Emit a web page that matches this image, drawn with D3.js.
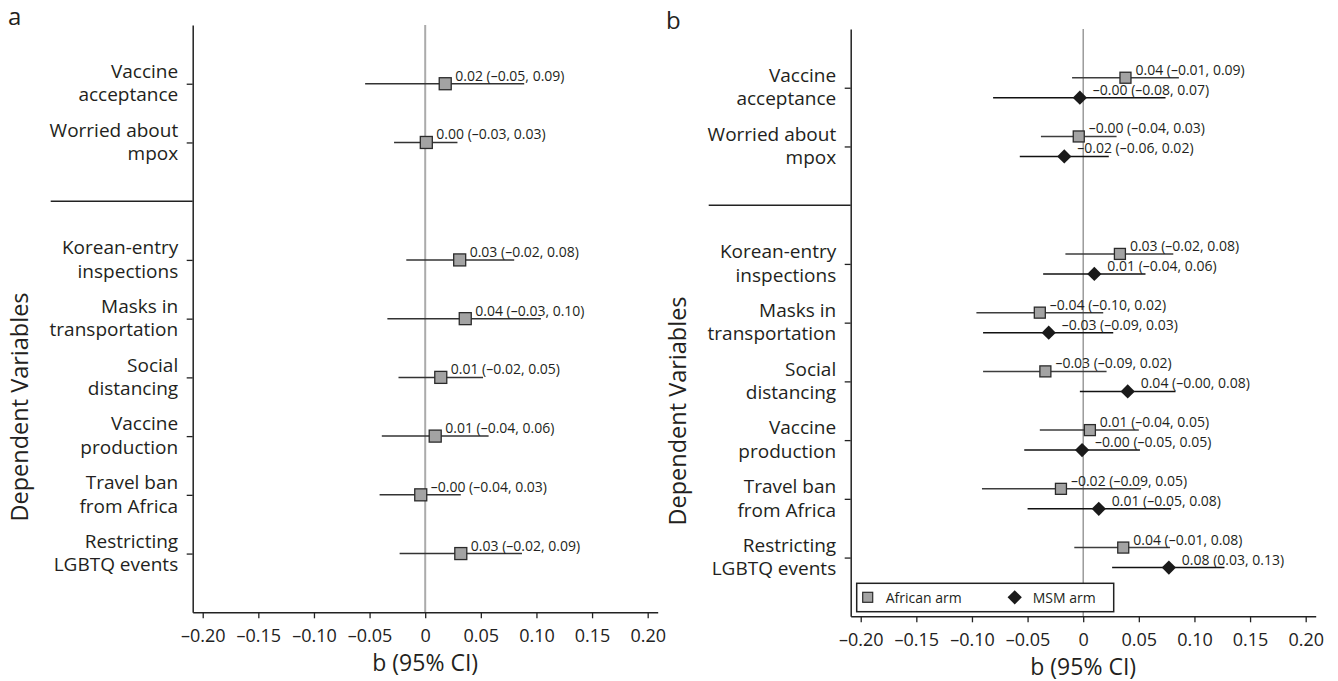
<!DOCTYPE html>
<html>
<head>
<meta charset="utf-8">
<script src="https://cdn.jsdelivr.net/npm/d3@7"></script>
<style>
    body { margin: 0; background: #fff; }
    svg { display: block; font-family: "Open Sans", "Noto Sans", sans-serif; }
</style>
</head>
<body>
<div id="chart"></div>
<script>
// Dependent variables (two-line labels, top to bottom)
const categoryLines = [
    ["Vaccine", "acceptance"],
    ["Worried about", "mpox"],
    ["Korean-entry", "inspections"],
    ["Masks in", "transportation"],
    ["Social", "distancing"],
    ["Vaccine", "production"],
    ["Travel ban", "from Africa"],
    ["Restricting", "LGBTQ events"]
];
const categories = categoryLines.map(d => d.join(" "));

// Panel a: estimate and 95% CI
const aEst = [0.018, 0.001, 0.031, 0.036, 0.014, 0.009, -0.004, 0.032];
const aLo  = [-0.054, -0.028, -0.017, -0.034, -0.024, -0.039, -0.041, -0.023];
const aHi  = [0.089, 0.029, 0.080, 0.104, 0.052, 0.057, 0.032, 0.087];

// Panel b: African arm
const afrEst = [0.038, -0.004, 0.033, -0.039, -0.034, 0.006, -0.020, 0.036];
const afrLo  = [-0.010, -0.038, -0.016, -0.096, -0.090, -0.039, -0.091, -0.008];
const afrHi  = [0.086, 0.030, 0.081, 0.018, 0.021, 0.050, 0.052, 0.078];

// Panel b: MSM arm
const msmEst = [-0.003, -0.017, 0.010, -0.031, 0.040, -0.001, 0.014, 0.077];
const msmLo  = [-0.081, -0.057, -0.036, -0.090, -0.003, -0.053, -0.050, 0.026];
const msmHi  = [0.074, 0.023, 0.056, 0.027, 0.083, 0.051, 0.079, 0.127];

const xTicks = [-0.20, -0.15, -0.10, -0.05, 0, 0.05, 0.10, 0.15, 0.20];
const xTickLabels = ["\u20130.20", "\u20130.15", "\u20130.10", "\u20130.05", "0", "0.05", "0.10", "0.15", "0.20"];
const legendLabels = ["African arm", "MSM arm"];

// number like 0.02 with en dash for minus (keeps "-0.00")
const fmt = v => (v < 0 ? "\u2013" : "") + Math.abs(v).toFixed(2);
const ciLabel = (e, l, h) => `${fmt(e)} (${fmt(l)}, ${fmt(h)})`;

const svg = d3.select("#chart")
    .append("svg")
    .attr("width", 1338)
    .attr("height", 681);

function drawPanel(g, letter, zeroStyle) {
    const x = d3.scaleLinear()
        .domain([-0.209, 0.209])
        .range([192.7, 657.7]);

    // point scale with an empty slot on top, one for the divider and one at the bottom
    const y = d3.scalePoint()
        .domain(["_top", categories[0], categories[1], "_sep", ...categories.slice(2), "_bottom"])
        .range([25, 612.3]);

    // zero reference line
    g.append("line")
        .attr("x1", x(0)).attr("x2", x(0))
        .attr("y1", y("_top")).attr("y2", y("_bottom"))
        .attr("stroke", zeroStyle.color)
        .attr("stroke-width", zeroStyle.width);

    // x axis
    const xAxis = g.append("g")
        .attr("transform", `translate(0,${y("_bottom")})`)
        .call(d3.axisBottom(x)
            .tickValues(xTicks)
            .tickFormat((d, i) => xTickLabels[i])
            .tickSize(6)
            .tickSizeOuter(0)
            .tickPadding(10.5));
    xAxis.select(".domain").attr("stroke", "#222").attr("stroke-width", 1.5);
    xAxis.selectAll(".tick line").attr("stroke", "#222").attr("stroke-width", 1.3);
    xAxis.selectAll("text")
        .style("font-family", "Open Sans")
        .style("font-size", "18px")
        .attr("fill", "#222");

    // y axis (ticks only, labels drawn below)
    const yAxis = g.append("g")
        .attr("transform", `translate(${x.range()[0]},0)`)
        .call(d3.axisLeft(y)
            .tickValues(categories)
            .tickFormat("")
            .tickSize(6)
            .tickSizeOuter(0));
    yAxis.select(".domain").attr("stroke", "#222").attr("stroke-width", 1.5);
    yAxis.selectAll(".tick line").attr("stroke", "#222").attr("stroke-width", 1.3);

    // divider between the two groups of variables
    g.append("line")
        .attr("x1", x.range()[0] - 142).attr("x2", x.range()[0])
        .attr("y1", y("_sep")).attr("y2", y("_sep"))
        .attr("stroke", "#222")
        .attr("stroke-width", 1.5);

    // category labels
    const labels = g.selectAll(".cat")
        .data(categories)
        .enter()
        .append("text")
        .attr("class", "cat")
        .attr("text-anchor", "end")
        .style("font-size", "19px")
        .attr("fill", "#231f20");
    labels.append("tspan")
        .attr("x", x.range()[0] - 14.5)
        .attr("y", d => y(d) - 5.7)
        .text((d, i) => categoryLines[i][0]);
    labels.append("tspan")
        .attr("x", x.range()[0] - 14.5)
        .attr("y", d => y(d) + 17.7)
        .text((d, i) => categoryLines[i][1]);

    // axis titles and panel letter
    g.append("text")
        .attr("transform", `translate(28,407) rotate(-90)`)
        .attr("text-anchor", "middle")
        .style("font-size", "23.5px")
        .attr("fill", "#231f20")
        .text("Dependent Variables");

    g.append("text")
        .attr("x", x(0))
        .attr("y", 671)
        .attr("text-anchor", "middle")
        .style("font-size", "23px")
        .attr("fill", "#231f20")
        .text("b (95% CI)");

    g.append("text")
        .attr("x", 8)
        .attr("y", 25)
        .style("font-size", "24px")
        .attr("fill", "#231f20")
        .text(letter);

    return { x, y };
}

// draws CI lines, markers and value labels for one series
function drawSeries(g, x, y, est, lo, hi, opts) {
    const rows = categories.map((c, i) => ({ c, est: est[i], lo: lo[i], hi: hi[i] }));
    const cy = d => y(d.c) + opts.offset;

    g.selectAll(null)
        .data(rows)
        .enter()
        .append("line")
        .attr("x1", d => x(d.lo))
        .attr("x2", d => x(d.hi))
        .attr("y1", cy)
        .attr("y2", cy)
        .attr("stroke", opts.lineColor)
        .attr("stroke-width", 1.5);

    if (opts.shape === "square") {
        g.selectAll(null)
            .data(rows)
            .enter()
            .append("rect")
            .attr("x", d => x(d.est) - opts.size / 2)
            .attr("y", d => cy(d) - opts.size / 2)
            .attr("width", opts.size)
            .attr("height", opts.size)
            .attr("fill", "#a3a3a3")
            .attr("stroke", "#2b2b2b")
            .attr("stroke-width", 1.3);
    } else {
        g.selectAll(null)
            .data(rows)
            .enter()
            .append("path")
            .attr("d", d3.symbol(d3.symbolDiamond2, 130))
            .attr("transform", d => `translate(${x(d.est)},${cy(d)})`)
            .attr("fill", "#1a1a1a");
    }

    g.selectAll(null)
        .data(rows)
        .enter()
        .append("text")
        .attr("x", d => x(d.est) + opts.labelGap)
        .attr("y", d => cy(d) - 3)
        .style("font-size", "14px")
        .attr("fill", "#231f20")
        .text(d => ciLabel(d.est, d.lo, d.hi));
}

// Panel a
const gA = svg.append("g");
const pA = drawPanel(gA, "a", { color: "#ababab", width: 2 });
drawSeries(gA, pA.x, pA.y, aEst, aLo, aHi,
    { shape: "square", size: 12, offset: 0, lineColor: "#333", labelGap: 10 });

// Panel b
const gB = svg.append("g").attr("transform", "translate(658,4)");
const pB = drawPanel(gB, "b", { color: "#8c8c8c", width: 1.3 });
drawSeries(gB, pB.x, pB.y, afrEst, afrLo, afrHi,
    { shape: "square", size: 11, offset: -10, lineColor: "#3d3d3d", labelGap: 10 });
drawSeries(gB, pB.x, pB.y, msmEst, msmLo, msmHi,
    { shape: "diamond", offset: 10, lineColor: "#111", labelGap: 13 });

// Legend (panel b)
const leg = gB.append("g")
    .attr("transform", `translate(${pB.x.range()[0] + 6},${pB.y("_bottom") - 33})`);
leg.append("rect")
    .attr("width", 257)
    .attr("height", 28.4)
    .attr("fill", "#fff")
    .attr("stroke", "#222")
    .attr("stroke-width", 1.5);
leg.append("rect")
    .attr("x", 6).attr("y", 9)
    .attr("width", 10).attr("height", 10)
    .attr("fill", "#a3a3a3")
    .attr("stroke", "#2b2b2b")
    .attr("stroke-width", 1.2);
leg.append("path")
    .attr("d", d3.symbol(d3.symbolDiamond2, 130))
    .attr("transform", "translate(158,14)")
    .attr("fill", "#1a1a1a");
leg.selectAll(".legtext")
    .data(legendLabels)
    .enter()
    .append("text")
    .attr("class", "legtext")
    .attr("x", (d, i) => i === 0 ? 29 : 176)
    .attr("y", 20)
    .style("font-size", "14px")
    .attr("fill", "#231f20")
    .text(d => d);
</script>
</body>
</html>
